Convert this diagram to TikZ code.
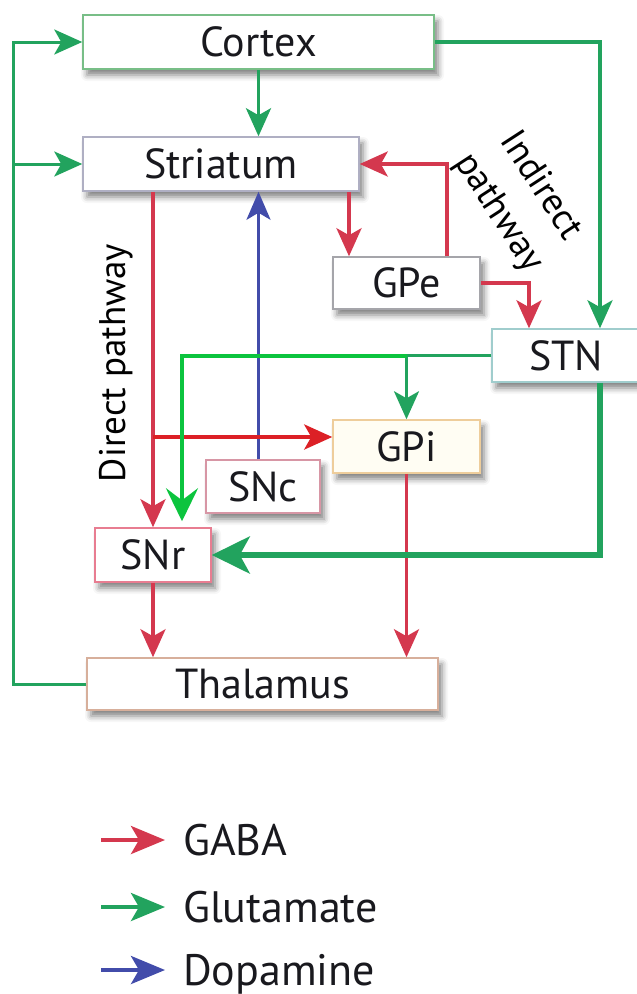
\documentclass[tikz,border=0pt]{standalone}
\usepackage{fontspec}
\setmainfont{PT Sans}
\usetikzlibrary{arrows.meta,shadows.blur}
\definecolor{gabared}{RGB}{212,56,78}
\definecolor{brightred}{RGB}{220,32,38}
\definecolor{glugreen}{RGB}{34,163,94}
\definecolor{brightgreen}{RGB}{12,196,62}
\definecolor{dopblue}{RGB}{66,76,170}
\definecolor{txt}{RGB}{25,25,30}
\definecolor{bCortex}{RGB}{120,190,135}
\definecolor{bStri}{RGB}{175,175,195}
\definecolor{bGPe}{RGB}{165,165,170}
\definecolor{bSTN}{RGB}{160,205,205}
\definecolor{bGPi}{RGB}{238,205,155}
\definecolor{bSNc}{RGB}{215,150,165}
\definecolor{bSNr}{RGB}{232,125,145}
\definecolor{bThal}{RGB}{215,175,155}
\definecolor{gpifill}{RGB}{255,253,243}
\begin{document}
\begin{tikzpicture}[x=1pt,y=-1pt,
  box/.style={draw, line width=1.5pt, fill=white, inner sep=0pt, text=txt,
    font=\fontsize{42}{50}\selectfont,
    blur shadow={shadow xshift=4pt, shadow yshift=-6pt, shadow blur radius=6pt, shadow opacity=50}},
  lbl/.style={text=black, inner sep=0pt, font=\fontsize{37}{50}\selectfont},
  legtxt/.style={text=txt, inner sep=0pt, anchor=base west, font=\fontsize{44}{52}\selectfont},
  tipS/.style={-{Stealth[length=28pt,width=25pt,inset=7pt]}},
  tipB/.style={-{Stealth[length=38pt,width=37pt,inset=10pt]}},
  rl/.style={draw=gabared, line width=3.5pt},
  gl/.style={draw=glugreen, line width=3.5pt},
  line join=miter]
\useasboundingbox (0,0) rectangle (637,994);

% boxes
\node[box, draw=bCortex, minimum width=351pt, minimum height=54pt] (Cortex) at (258.5,42) {Cortex};
\node[box, draw=bStri, minimum width=276pt, minimum height=54pt] (Striatum) at (221,164) {Striatum};
\node[box, draw=bGPe, minimum width=147pt, minimum height=52pt] (GPe) at (406.5,283) {GPe};
\node[box, draw=bSTN, minimum width=148pt, minimum height=53pt] (STN) at (566,355.5) {STN};
\node[box, draw=bGPi, fill=gpifill, minimum width=147pt, minimum height=53pt] (GPi) at (406.5,446.5) {GPi};
\node[box, draw=bSNc, minimum width=114pt, minimum height=53pt] (SNc) at (263,486.5) {SNc};
\node[box, draw=bSNr, minimum width=116pt, minimum height=54pt] (SNr) at (153,555) {SNr};
\node[box, draw=bThal, minimum width=351pt, minimum height=52pt] (Thalamus) at (262.5,684) {Thalamus};

% labels
\node[lbl, rotate=90] (direct) at (116,363) {Direct pathway};
\node[lbl, rotate=-57, align=center] (indirect) at (519.5,199.5) {Indirect\\pathway};

% dopamine
\draw[draw=dopblue, line width=3pt, -{Stealth[length=28pt,width=24pt,inset=7pt]}]
  (SNc.north -| Cortex.south) -- (Cortex.south |- Striatum.south);

% GABA connections
\coordinate (dbr) at (153,437);
\draw[rl, tipS] (SNr.north |- Striatum.south) -- (SNr.north);
\draw[draw=brightred, line width=4pt, tipS] (dbr) -- (dbr -| GPi.west);
\draw[rl, tipS] ([xshift=-57.5pt]GPe.north |- Striatum.south) -- ([xshift=-57.5pt]GPe.north);
\draw[rl, tipS] ([xshift=40.5pt]GPe.north) |- (Striatum.east);
\draw[rl, tipS] (GPe.east) -| ([xshift=-37pt]STN.north);
\draw[rl, tipS] (SNr.south) -- (SNr.south |- Thalamus.north);
\draw[rl, tipS] (GPi.south) -- (GPi.south |- Thalamus.north);

% glutamate connections
\coordinate (Lb) at (13,684);
\coordinate (Lt) at (13,42);
\coordinate (Lm) at (13,164);
\draw[gl, line width=3pt, tipS] (Thalamus.west) -- (Lb) -- (Lt) -- (Cortex.west);
\draw[gl, line width=3pt, tipS] (Lm) -- (Striatum.west);
\draw[gl, tipS] (Cortex.south) -- (Cortex.south |- Striatum.north);
\draw[gl, tipS] (Cortex.east) -| ([xshift=34pt]STN.north);
\draw[gl, line width=3pt, tipS] (STN.west) -| (GPi.north);
\draw[gl, line width=6pt, tipB] ([xshift=34pt]STN.south) |- (SNr.east);
\coordinate (bg) at (GPi.north |- STN.west);
\draw[draw=brightgreen, line width=4pt, -{Stealth[length=33pt,width=32pt,inset=12pt]}, shorten >=6pt]
  (bg) -| ([xshift=29pt]SNr.north);

% legend
\node[legtxt] (gaba) at (183,855) {GABA};
\node[legtxt] (glu) at (183,922) {Glutamate};
\node[legtxt] (dop) at (183,985) {Dopamine};
\draw[draw=gabared, line width=4pt, -{Stealth[length=34pt,width=28pt,inset=8pt]}]
  ([xshift=-82pt,yshift=15pt]gaba.base west) -- ([xshift=-18pt,yshift=15pt]gaba.base west);
\draw[draw=glugreen, line width=4pt, -{Stealth[length=34pt,width=28pt,inset=8pt]}]
  ([xshift=-82pt,yshift=15pt]glu.base west) -- ([xshift=-18pt,yshift=15pt]glu.base west);
\draw[draw=dopblue, line width=4pt, -{Stealth[length=34pt,width=28pt,inset=8pt]}]
  ([xshift=-82pt,yshift=15pt]dop.base west) -- ([xshift=-18pt,yshift=15pt]dop.base west);
\end{tikzpicture}
\end{document}
